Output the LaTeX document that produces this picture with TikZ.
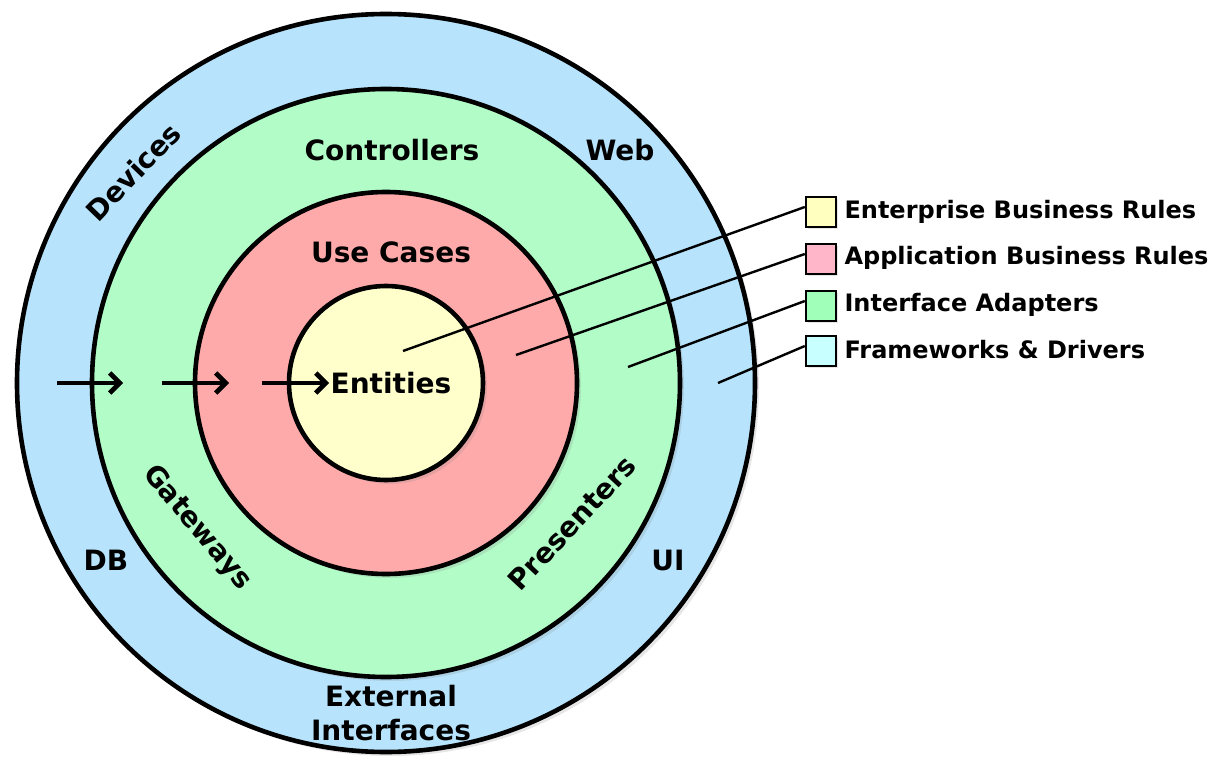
\documentclass[tikz,border=0pt]{standalone}
\usepackage{fontspec}
\setmainfont{DejaVu Sans}
\usetikzlibrary{arrows.meta,shadows,positioning}
\definecolor{ringblue}{RGB}{183,228,252}
\definecolor{ringgreen}{RGB}{178,252,200}
\definecolor{ringpink}{RGB}{255,170,170}
\definecolor{ringyellow}{RGB}{255,255,204}
\definecolor{keyyellow}{RGB}{255,255,192}
\definecolor{keypink}{RGB}{255,182,200}
\definecolor{keygreen}{RGB}{160,255,184}
\definecolor{keycyan}{RGB}{200,255,255}

\begin{document}
\begin{tikzpicture}[x=1pt,y=-1pt,
  ring/.style={circle, draw=black, line width=4.6pt, inner sep=0pt, drop shadow={shadow xshift=4pt, shadow yshift=-4pt, opacity=0.2}},
  lbl/.style={font=\fontsize{28}{34}\selectfont\bfseries, align=center},
  keybox/.style={draw=black, line width=2.4pt, minimum size=30pt, inner sep=0pt, drop shadow={shadow xshift=2pt, shadow yshift=-2pt, opacity=0.2}},
  keytext/.style={font=\fontsize{24}{28}\selectfont\bfseries, anchor=west},
  leader/.style={line width=2.4pt},
  flow/.style={line width=4.6pt, -{Straight Barb[length=10pt,width=20pt,line width=4.6pt]}}]
  \useasboundingbox (0,0) rectangle (1211,770);

  % Define the rings
  \node[ring, fill=ringblue, minimum size=738pt] (frame) at (386,383) {};
  \node[ring, fill=ringgreen, minimum size=588pt] (adapt) at (386,383) {};
  \node[ring, fill=ringpink, minimum size=382pt] (usec) at (386,383) {};
  \node[ring, fill=ringyellow, minimum size=194pt] (ent) at (386,383) {};

  % Ring labels
  \node[lbl] (entities) at (391,383) {Entities};
  \node[lbl] (usecases) at (391,252) {Use Cases};
  \node[lbl] (controllers) at (392,150) {Controllers};
  \node[lbl, rotate=-50] (gateways) at (197,528) {Gateways};
  \node[lbl, rotate=47] (presenters) at (572,523) {Presenters};
  \node[lbl, rotate=46] (devices) at (133,172) {Devices};
  \node[lbl] (web) at (620,150) {Web};
  \node[lbl] (db) at (106,560) {DB};
  \node[lbl] (ui) at (668,560) {UI};
  \node[lbl] (external) at (391,713) {External\\Interfaces};

  % Dependency arrows
  \coordinate (a0) at (57,383);
  \coordinate (a1) at (123,383);
  \coordinate (b0) at (162,383);
  \coordinate (b1) at (229,383);
  \coordinate (c0) at (262,383);
  \coordinate (c1) at (329,383);
  \draw[flow] (a0) -- (a1);
  \draw[flow] (b0) -- (b1);
  \draw[flow] (c0) -- (c1);

  % Legend
  \node[keybox, fill=keyyellow] (k1) at (821,212) {};
  \node[keybox, fill=keypink] (k2) at (821,259) {};
  \node[keybox, fill=keygreen] (k3) at (821,306) {};
  \node[keybox, fill=keycyan] (k4) at (821,351) {};
  \node[keytext] (t1) at (841,212) {Enterprise Business Rules};
  \node[keytext] (t2) at (841,258) {Application Business Rules};
  \node[keytext] (t3) at (841,305) {Interface Adapters};
  \node[keytext] (t4) at (841,350) {Frameworks \& Drivers};

  % Leader lines
  \coordinate (p1) at (403,351);
  \coordinate (p2) at (516,355);
  \coordinate (p3) at (628,367);
  \coordinate (p4) at (718,383);
  \draw[leader] (p1) -- ([yshift=5pt]k1.west);
  \draw[leader] (p2) -- ([yshift=5pt]k2.west);
  \draw[leader] (p3) -- ([yshift=5pt]k3.west);
  \draw[leader] (p4) -- ([yshift=5pt]k4.west);
\end{tikzpicture}
\end{document}
